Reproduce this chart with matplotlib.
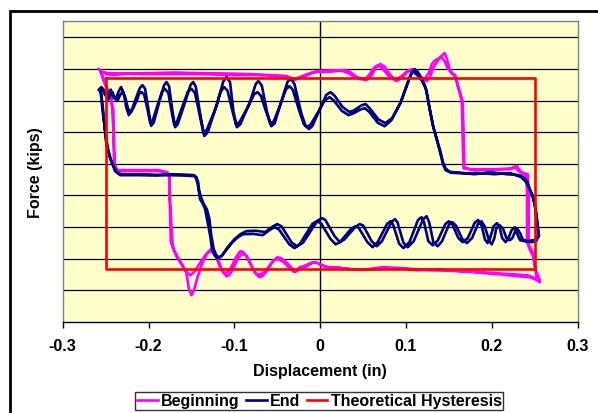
import matplotlib
matplotlib.use("Agg")
from matplotlib import pyplot as plt
from matplotlib.patches import Rectangle

plt.rcParams['font.family'] = ['Liberation Sans', 'DejaVu Sans']
plt.rcParams['font.weight'] = 'bold'

# Beginning of test (two cycles, magenta)
begin_x = [
    # cycle 1, upper branch
    -0.258, -0.254, -0.246, -0.230, -0.211, -0.179, -0.141, -0.102, -0.059, -0.039,
    -0.034, -0.030, -0.025, -0.018, -0.010, -0.004, 0.011, 0.028, 0.034, 0.041,
    0.046, 0.054, 0.060, 0.065, 0.070, 0.075, 0.082, 0.089, 0.096, 0.102,
    0.107, 0.112, 0.119, 0.124, 0.128, 0.132, 0.136, 0.140, 0.145, 0.148,
    0.151, 0.155, 0.158, 0.161, 0.164, 0.166, 0.167, 0.168, 0.174, 0.198,
    0.221, 0.226, 0.229, 0.232, 0.234, 0.240, 0.241, 0.241, 0.244, 0.248,
    0.252, 0.256,
    # cycle 1, lower branch
    0.250, 0.244, 0.230, 0.209, 0.178, 0.163, 0.139, 0.112, 0.090, 0.073,
    0.050, 0.034, 0.020, 0.007, 0.000, -0.005, -0.009, -0.014, -0.020, -0.024,
    -0.028, -0.033, -0.040, -0.046, -0.050, -0.055, -0.062, -0.067, -0.071, -0.076,
    -0.083, -0.087, -0.091, -0.096, -0.102, -0.106, -0.109, -0.114, -0.120, -0.124,
    -0.127, -0.131, -0.137, -0.143, -0.147, -0.150, -0.153, -0.156, -0.160, -0.163,
    -0.167, -0.171, -0.174, -0.175, -0.176, -0.178, -0.191, -0.223, -0.235, -0.239,
    -0.240, -0.241, -0.245, -0.253,
    # cycle 2, upper branch
    -0.256, -0.250, -0.243, -0.220, -0.199, -0.170, -0.141, -0.110, -0.082, -0.060,
    -0.042, -0.036, -0.031, -0.025, -0.017, -0.008, -0.001, 0.015, 0.026, 0.033,
    0.039, 0.044, 0.053, 0.058, 0.063, 0.067, 0.072, 0.080, 0.087, 0.094,
    0.100, 0.104, 0.110, 0.117, 0.122, 0.127, 0.130, 0.133, 0.138, 0.141,
    0.145, 0.149, 0.153, 0.157, 0.160, 0.163, 0.165, 0.166, 0.167, 0.180,
    0.209, 0.223, 0.227, 0.231, 0.238, 0.242, 0.243, 0.243, 0.248, 0.251,
    0.256,
    # cycle 2, lower branch
    0.251, 0.242, 0.225, 0.203, 0.168, 0.128, 0.093, 0.075, 0.058, 0.040,
    0.023, 0.010, 0.005, -0.002, -0.006, -0.010, -0.017, -0.024, -0.030, -0.036,
    -0.043, -0.048, -0.052, -0.057, -0.064, -0.070, -0.074, -0.079, -0.085, -0.090,
    -0.093, -0.098, -0.104, -0.109, -0.112, -0.117, -0.122, -0.126, -0.129, -0.134,
    -0.141, -0.146, -0.151, -0.155, -0.158, -0.162, -0.166, -0.170, -0.172, -0.175,
    -0.176, -0.187, -0.228, -0.236, -0.240, -0.241, -0.243, -0.250, -0.256,
]
begin_y = [
    30.0, 29.0, 28.7, 28.6, 28.4, 28.4, 28.4, 28.1, 28.1, 27.8,
    27.2, 26.9, 27.3, 28.1, 28.8, 29.1, 29.1, 29.7, 29.3, 27.8,
    26.9, 26.5, 28.0, 30.5, 31.6, 30.8, 28.0, 26.2, 27.3, 29.4,
    30.0, 29.2, 27.0, 26.2, 27.5, 30.5, 32.2, 33.8, 35.1, 33.0,
    29.7, 28.2, 27.5, 24.3, 21.5, 19.9, 11.0, -1.0, -1.7, -1.7,
    -1.7, -1.0, -0.7, -1.8, -2.6, -3.9, -9.0, -24.8, -27.0, -29.3,
    -35.6, -37.5,
    -36.5, -35.9, -35.6, -35.0, -34.3, -34.0, -33.4, -33.7, -33.0, -32.7,
    -33.6, -33.4, -32.8, -32.7, -32.0, -31.2, -31.2, -31.8, -32.5, -32.7,
    -34.0, -33.0, -31.0, -29.8, -29.6, -30.8, -34.0, -35.5, -35.9, -34.5,
    -30.5, -28.9, -28.6, -30.0, -33.5, -35.3, -35.6, -34.0, -29.5, -27.3,
    -27.0, -28.0, -31.2, -36.0, -40.0, -41.6, -39.5, -34.3, -32.3, -31.2,
    -29.5, -27.0, -24.8, -14.4, -3.9, -2.6, -2.3, -2.3, -2.3, -1.7,
    4.7, 17.3, 21.1, 26.9,
    29.4, 28.5, 28.1, 28.6, 28.7, 28.9, 28.7, 28.6, 28.4, 28.0,
    27.5, 26.8, 26.5, 27.0, 27.8, 29.0, 29.4, 29.6, 29.4, 28.7,
    27.6, 27.2, 26.9, 28.5, 30.5, 31.2, 30.3, 27.8, 26.5, 27.6,
    29.0, 29.4, 28.6, 27.4, 26.9, 29.0, 31.5, 32.6, 33.4, 33.8,
    32.5, 30.0, 28.8, 28.1, 24.9, 22.0, 19.6, 7.8, -1.4, -2.0,
    -1.7, -1.5, -1.0, -2.3, -3.0, -3.3, -11.2, -25.5, -28.3, -33.4,
    -36.9,
    -36.3, -35.3, -35.0, -34.6, -34.0, -33.7, -33.0, -33.2, -33.4, -33.4,
    -33.0, -32.8, -32.4, -31.5, -31.2, -31.5, -32.6, -33.4, -34.3, -33.0,
    -31.0, -30.4, -30.2, -31.5, -34.0, -35.0, -35.0, -33.0, -29.5, -27.9,
    -27.7, -29.5, -33.0, -34.6, -34.6, -32.5, -29.0, -27.9, -27.7, -29.0,
    -31.8, -34.0, -35.3, -34.5, -33.4, -31.5, -29.6, -27.5, -25.5, -11.2,
    -3.3, -2.0, -2.0, -2.0, -0.1, 11.0, 20.5, 25.2, 29.4,
]

# End of test (two cycles, navy)
end_x = [
    # cycle 1, upper branch
    -0.258, -0.255, -0.251, -0.248, -0.246, -0.244, -0.241, -0.238, -0.235, -0.232,
    -0.229, -0.226, -0.223, -0.220, -0.215, -0.210, -0.207, -0.204, -0.200, -0.197,
    -0.194, -0.187, -0.182, -0.179, -0.176, -0.172, -0.169, -0.166, -0.158, -0.151,
    -0.148, -0.145, -0.139, -0.135, -0.131, -0.120, -0.113, -0.109, -0.105, -0.101,
    -0.097, -0.093, -0.082, -0.075, -0.072, -0.068, -0.062, -0.057, -0.053, -0.045,
    -0.038, -0.034, -0.030, -0.022, -0.017, -0.013, -0.009, 0.000, 0.007, 0.012,
    0.017, 0.026, 0.034, 0.040, 0.048, 0.053, 0.058, 0.068, 0.076, 0.084,
    0.094, 0.102, 0.107, 0.110, 0.114, 0.120, 0.124, 0.128, 0.132, 0.136,
    0.140, 0.143, 0.146, 0.150, 0.153, 0.165, 0.180, 0.198, 0.217, 0.233,
    0.238, 0.241, 0.245, 0.250, 0.252, 0.255,
    # cycle 1, lower branch
    0.252, 0.248, 0.242, 0.236, 0.233, 0.230, 0.227, 0.224, 0.221, 0.217,
    0.213, 0.209, 0.205, 0.203, 0.200, 0.197, 0.192, 0.188, 0.184, 0.177,
    0.171, 0.166, 0.158, 0.154, 0.150, 0.142, 0.137, 0.132, 0.127, 0.124,
    0.120, 0.109, 0.102, 0.097, 0.090, 0.087, 0.083, 0.072, 0.066, 0.060,
    0.050, 0.046, 0.041, 0.028, 0.023, 0.017, 0.006, 0.002, -0.003, -0.020,
    -0.027, -0.033, -0.045, -0.050, -0.055, -0.064, -0.075, -0.086, -0.093, -0.100,
    -0.108, -0.114, -0.118, -0.121, -0.124, -0.127, -0.129, -0.132, -0.136, -0.139,
    -0.141, -0.142, -0.144, -0.147, -0.160, -0.172, -0.190, -0.207, -0.220, -0.231,
    -0.236, -0.239, -0.242, -0.245, -0.248, -0.250, -0.251, -0.253, -0.255,
    # cycle 2, upper branch
    -0.256, -0.253, -0.250, -0.247, -0.244, -0.242, -0.239, -0.236, -0.233, -0.230,
    -0.227, -0.224, -0.221, -0.218, -0.213, -0.211, -0.208, -0.205, -0.201, -0.198,
    -0.195, -0.189, -0.184, -0.181, -0.177, -0.173, -0.170, -0.167, -0.160, -0.154,
    -0.150, -0.146, -0.140, -0.136, -0.132, -0.122, -0.116, -0.112, -0.108, -0.102,
    -0.098, -0.094, -0.084, -0.077, -0.073, -0.069, -0.063, -0.058, -0.054, -0.046,
    -0.040, -0.036, -0.032, -0.024, -0.019, -0.015, -0.011, -0.002, 0.005, 0.011,
    0.016, 0.025, 0.033, 0.039, 0.047, 0.052, 0.057, 0.067, 0.075, 0.083,
    0.093, 0.101, 0.106, 0.108, 0.112, 0.118, 0.123, 0.127, 0.131, 0.135,
    0.140, 0.143, 0.146, 0.152, 0.157, 0.170, 0.184, 0.203, 0.221, 0.234,
    0.239, 0.242, 0.248, 0.251, 0.254,
    # cycle 2, lower branch
    0.252, 0.247, 0.240, 0.233, 0.230, 0.227, 0.223, 0.219, 0.216, 0.212,
    0.209, 0.206, 0.202, 0.198, 0.195, 0.192, 0.188, 0.184, 0.180, 0.172,
    0.166, 0.161, 0.154, 0.150, 0.146, 0.137, 0.131, 0.126, 0.121, 0.118,
    0.114, 0.104, 0.097, 0.092, 0.085, 0.082, 0.078, 0.067, 0.061, 0.055,
    0.045, 0.041, 0.036, 0.023, 0.018, 0.012, 0.001, -0.004, -0.009, -0.024,
    -0.030, -0.036, -0.048, -0.053, -0.058, -0.067, -0.078, -0.090, -0.097, -0.103,
    -0.110, -0.116, -0.120, -0.123, -0.126, -0.128, -0.130, -0.134, -0.137, -0.140,
    -0.142, -0.144, -0.146, -0.160, -0.176, -0.195, -0.211, -0.225, -0.233, -0.239,
    -0.244, -0.247, -0.249, -0.251, -0.253, -0.256,
]
end_y = [
    23.4, 24.3, 22.0, 21.1, 22.8, 23.5, 21.0, 20.6, 22.8, 24.3,
    22.5, 18.0, 15.4, 16.5, 20.5, 24.0, 24.9, 23.8, 17.0, 12.0,
    13.0, 20.0, 24.8, 25.9, 24.5, 16.5, 11.6, 12.5, 19.0, 25.0,
    25.9, 24.5, 14.5, 8.8, 10.0, 19.0, 26.0, 27.5, 25.8, 16.5,
    11.6, 12.5, 19.5, 25.3, 26.2, 24.8, 16.5, 11.9, 12.8, 20.0,
    26.0, 26.9, 25.3, 16.0, 12.0, 11.0, 12.0, 17.5, 21.8, 22.7,
    21.5, 18.0, 16.4, 17.0, 18.5, 18.9, 17.5, 14.0, 12.9, 14.5,
    19.5, 25.5, 29.0, 30.0, 29.0, 26.0, 23.0, 17.0, 11.5, 7.8,
    4.0, 0.5, -1.4, -2.4, -2.6, -2.9, -3.3, -2.6, -3.3, -3.6,
    -4.5, -5.5, -8.7, -12.5, -16.0, -22.9,
    -24.0, -24.2, -24.5, -24.0, -22.0, -20.7, -21.5, -23.5, -24.2, -23.5,
    -20.5, -19.4, -20.5, -23.5, -25.5, -24.5, -20.0, -18.2, -19.0, -23.5,
    -25.1, -24.0, -19.5, -18.5, -19.3, -24.5, -26.1, -25.0, -18.5, -16.6,
    -17.5, -24.5, -26.4, -25.0, -18.5, -17.5, -18.5, -24.5, -26.1, -24.5,
    -19.5, -19.1, -20.0, -24.0, -24.8, -23.0, -17.8, -17.2, -18.0, -25.0,
    -26.1, -25.0, -19.8, -19.1, -19.8, -21.6, -21.2, -21.3, -22.3, -23.9,
    -26.5, -29.0, -29.6, -29.0, -27.0, -22.5, -17.5, -14.4, -12.5, -10.5,
    -8.5, -6.0, -4.3, -3.6, -3.4, -3.3, -3.5, -3.3, -3.4, -3.3,
    -2.9, -1.5, -0.1, 2.0, 4.7, 8.0, 11.0, 17.3, 22.1,
    22.7, 23.8, 22.0, 20.3, 22.0, 22.7, 20.5, 20.0, 21.8, 22.9,
    21.0, 17.5, 16.4, 17.5, 20.5, 22.2, 22.7, 21.8, 17.0, 12.9,
    13.8, 19.0, 22.9, 23.7, 22.5, 16.5, 12.3, 13.2, 18.5, 22.9,
    23.7, 22.5, 15.0, 9.7, 10.8, 17.5, 22.8, 24.3, 23.2, 16.5,
    12.3, 13.2, 18.0, 22.0, 22.7, 21.5, 16.5, 12.6, 13.5, 19.0,
    23.5, 24.6, 23.5, 16.5, 12.5, 11.6, 12.5, 16.5, 20.0, 21.1,
    20.0, 16.8, 15.4, 16.0, 17.2, 17.6, 16.5, 13.0, 11.9, 13.8,
    19.0, 25.0, 28.6, 29.4, 28.6, 26.5, 24.0, 18.0, 12.5, 8.4,
    3.4, 0.0, -2.0, -2.8, -2.9, -3.0, -2.9, -3.3, -2.9, -4.2,
    -5.5, -6.8, -10.3, -15.0, -22.3,
    -24.3, -24.8, -24.6, -24.2, -22.5, -20.1, -21.0, -23.8, -24.8, -23.5,
    -20.0, -18.8, -19.8, -23.5, -25.1, -24.0, -19.5, -17.8, -18.7, -23.5,
    -24.8, -23.5, -19.2, -18.2, -19.0, -24.3, -25.8, -24.5, -18.5, -16.9,
    -17.8, -24.8, -26.7, -25.3, -19.3, -18.2, -19.0, -24.8, -26.4, -24.8,
    -20.3, -19.8, -20.6, -24.8, -25.5, -23.8, -18.8, -18.2, -19.0, -25.5,
    -26.7, -25.5, -20.8, -20.1, -20.8, -22.6, -22.2, -22.3, -23.5, -25.1,
    -27.5, -29.5, -29.9, -29.0, -27.0, -23.0, -20.1, -14.4, -12.5, -11.2,
    -7.4, -5.0, -3.9, -3.7, -3.6, -3.7, -3.6, -3.6, -3.6, -2.3,
    1.5, 4.5, 7.8, 11.5, 15.7, 23.1,
]

# Theoretical hysteresis loop
theory_x = [-0.25, 0.25, 0.25, -0.25, -0.25]
theory_y = [27.2, 27.2, -33.2, -33.2, 27.2]

x_ticks = [-0.3, -0.2, -0.1, 0, 0.1, 0.2, 0.3]
x_labels = ['-0.3', '-0.2', '-0.1', '0', '0.1', '0.2', '0.3']
y_grid = [-40, -30, -20, -10, 0, 10, 20, 30, 40]

fig = plt.figure(figsize=(5.98, 4.14), dpi=100)
ax = fig.add_axes([0.1048, 0.2205, 0.8612, 0.7255])
ax.set_facecolor('#FFFFCC')

for gy in y_grid:
    ax.axhline(gy, color='black', lw=0.9, zorder=1)
ax.axvline(0, color='black', lw=1.0, zorder=1)

ax.plot(begin_x, begin_y, color='#FF00FF', lw=1.9, label='Beginning', zorder=3,
        solid_joinstyle='round')
ax.plot(end_x, end_y, color='#000080', lw=1.9, label='End', zorder=4,
        solid_joinstyle='round')
ax.plot(theory_x, theory_y, color='#FF0000', lw=1.9, label='Theoretical Hysteresis',
        zorder=5)

ax.set_xlim(-0.3, 0.3)
ax.set_ylim(-50, 45.1)
ax.set_xticks(x_ticks)
ax.set_xticklabels(x_labels, fontsize=11.5, fontweight='bold')
ax.set_yticks([])
ax.tick_params(axis='x', direction='out', length=4, width=1, pad=8)

for side in ['top', 'left', 'right']:
    ax.spines[side].set_color('#808080')
    ax.spines[side].set_linewidth(1)
ax.spines['bottom'].set_color('black')
ax.spines['bottom'].set_linewidth(1)

ax.set_xlabel('Displacement (in)', fontsize=11.5, fontweight='bold', labelpad=7)
ax.set_ylabel('Force (kips)', fontsize=11.5, fontweight='bold', labelpad=14)

leg = fig.legend(loc='center', bbox_to_anchor=(0.534, 0.029), ncol=3,
                 fontsize=11.5, frameon=True, fancybox=False, edgecolor='black',
                 handlelength=1.3, handletextpad=0.2, columnspacing=0.4,
                 borderpad=0.1, borderaxespad=0)
leg.get_frame().set_linewidth(1)
for t in leg.get_texts():
    t.set_fontweight('bold')

# chart area border
fig.add_artist(Rectangle((10 / 598, -0.2), 1.2, 0.2 + 1 - 12 / 414,
                         transform=fig.transFigure, fill=False,
                         edgecolor='black', lw=2))

plt.savefig("out.png", dpi=100)
plt.close()
